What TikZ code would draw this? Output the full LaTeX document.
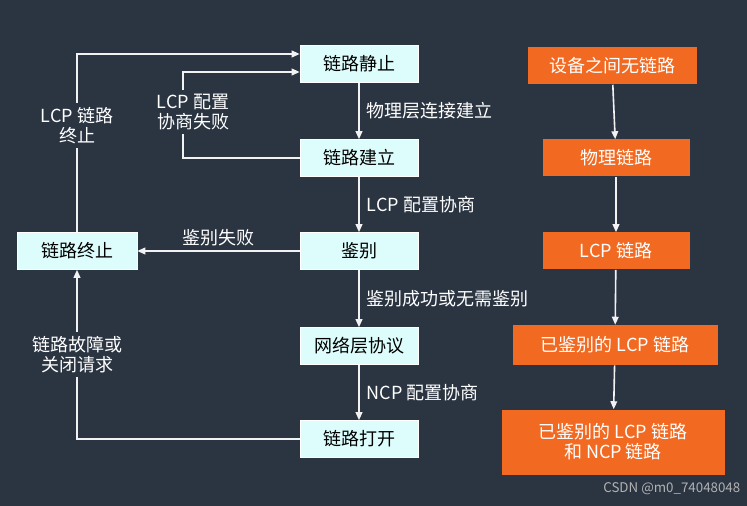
\documentclass[tikz,border=0pt]{standalone}
\usepackage{fontspec}
\setmainfont{Noto Sans CJK SC}
\usetikzlibrary{arrows.meta}
\definecolor{bgslate}{HTML}{2B3542}
\definecolor{boxcyan}{HTML}{DDFCFC}
\definecolor{boxorange}{HTML}{F26A21}
\tikzset{
  state/.style={draw=white, fill=boxcyan, text=black, minimum width=118*0.75pt, minimum height=37*0.75pt, inner sep=0pt, font=\fontsize{13.5}{15}\selectfont},
  phase/.style={fill=boxorange, text=white, minimum height=37*0.75pt, inner sep=0pt, font=\fontsize{13.5}{15}\selectfont, align=center},
  flow/.style={-{Triangle[length=6pt,width=5pt]}, very thick, draw=white!90!gray},
  note/.style={text=white, font=\fontsize{13.5}{15}\selectfont, align=center}
}
\begin{document}
\begin{tikzpicture}[x=0.75pt,y=-0.75pt]
        \fill[bgslate] (0,0) rectangle (747,506);
        \useasboundingbox (0,0) rectangle (747,506);
        % PPP states
        \node[state] (quiet) at (359,64) {链路静止};
        \node[state] (setup) at (359,158) {链路建立};
        \node[state] (auth) at (359,251) {鉴别};
        \node[state] (net) at (359,346) {网络层协议};
        \node[state] (open) at (359,439) {链路打开};
        \node[state, minimum width=120*0.75pt] (term) at (77,251) {链路终止};
        % link phases
        \node[phase, minimum width=169*0.75pt] (none) at (612,66) {设备之间无链路};
        \node[phase, minimum width=147*0.75pt] (phys) at (616,158) {物理链路};
        \node[phase, minimum width=147*0.75pt] (lcp) at (616,251) {LCP 链路};
        \node[phase, minimum width=205*0.75pt, minimum height=40*0.75pt] (alcp) at (615,345) {已鉴别的 LCP 链路};
        \node[phase, minimum width=223*0.75pt, minimum height=65*0.75pt] (ncp) at (613,442) {已鉴别的 LCP 链路\\和 NCP 链路};
        % main flow
        \draw[flow] (quiet) -- (setup) node[midway, right=2pt, note] {物理层连接建立};
        \draw[flow] (setup) -- (auth) node[midway, right=2pt, note] {LCP 配置协商};
        \draw[flow] (auth) -- (net) node[midway, right=2pt, note] {鉴别成功或无需鉴别};
        \draw[flow] (net) -- (open) node[midway, right=2pt, note] {NCP 配置协商};
        \draw[flow] (auth) -- (term) node[midway, above, note] {鉴别失败};
        \draw[flow] (term.north) |- (quiet.west |- 0,54) node[pos=0.3, note, fill=bgslate] {LCP 链路\\终止};
        \draw[flow] (setup.west) -| (183,72) -- (quiet.west |- 0,72);
        \node[note, fill=bgslate] at (193,112) {LCP 配置\\协商失败};
        \draw[flow] (open.west) -| (term.south) node[pos=0.75, note, fill=bgslate] {链路故障或\\关闭请求};
        % phase flow
        \draw[flow] (none) -- (phys);
        \draw[flow] (phys) -- (lcp);
        \draw[flow] (lcp) -- (alcp);
        \draw[flow] (alcp) -- (ncp);
        \node[text=gray!60, font=\fontsize{10}{12}\selectfont, anchor=south east] at (745,500) {CSDN @m0\_74048048};
\end{tikzpicture}
\end{document}
